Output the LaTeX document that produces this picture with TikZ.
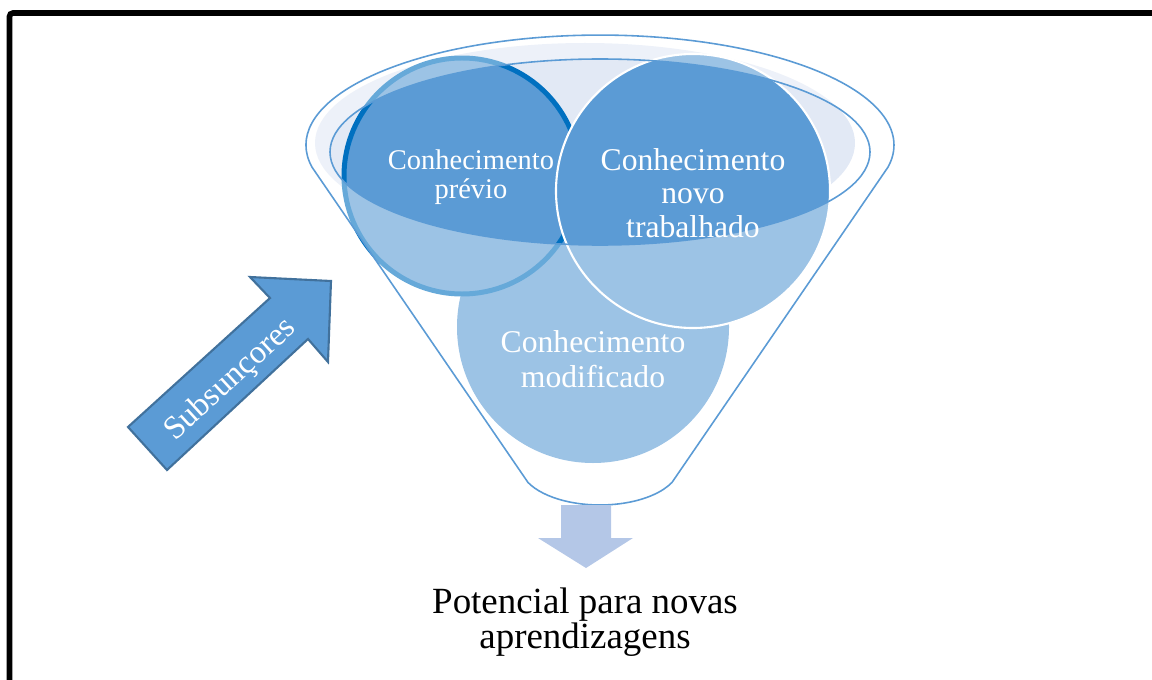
\documentclass[tikz,border=0pt]{standalone}
\usepackage{fontspec}
\setmainfont{Liberation Serif}
\definecolor{cmain}{HTML}{5B9BD5}
\definecolor{cring}{HTML}{0070C0}
\definecolor{crim}{HTML}{E2E9F5}
\definecolor{cline}{HTML}{5B9BD5}
\definecolor{cdown}{HTML}{B4C7E7}
\definecolor{cborder}{HTML}{41719C}
\begin{document}
\begin{tikzpicture}[x=0.01cm,y=-0.01cm,
  circtext/.style={text=white, align=center, inner sep=0pt},
  funnelline/.style={draw=cline, line width=0.45pt}]
\useasboundingbox (0,0) rectangle (1152,679);
% frame
\begin{scope}
  \clip (0,0) rectangle (1152,679);
  \draw[line width=1.6pt, rounded corners=1pt] (9.5,13) rectangle (1175,705);
\end{scope}
% centres
\coordinate (cprev) at (462,176);
\coordinate (cnovo) at (693,191);
\coordinate (cmod) at (593,327);
% light rim fill
\fill[crim] (585,143) ellipse[x radius=270, y radius=100];
% circles
\fill[cmain] (cmod) circle[radius=136];
\fill[cmain] (cprev) circle[radius=118];
\draw[cring, line width=1.42pt] (cprev) circle[radius=118];
\filldraw[fill=cmain, draw=white, line width=0.6pt] (cnovo) circle[radius=137];
% funnel body overlay (outside the opening)
\fill[white, opacity=0.4, even odd rule]
  (311.9,167) arc[start angle=168.5, end angle=371.5, x radius=294, y radius=110]
  -- (672,482.4) arc[start angle=25.8, end angle=154.2, x radius=80, y radius=40] -- cycle
  (600,152) ellipse[x radius=270, y radius=93];
% funnel outlines
\draw[funnelline, line join=round]
  (311.9,167) arc[start angle=168.5, end angle=371.5, x radius=294, y radius=110]
  -- (672,482.4) arc[start angle=25.8, end angle=154.2, x radius=80, y radius=40] -- cycle;
\draw[funnelline] (600,152) ellipse[x radius=270, y radius=93];
% texts in circles
\node[circtext, font=\fontsize{8.1}{8.2}\selectfont] (prev) at (471,177) {Conhecimento\\prévio};
\node[circtext, font=\fontsize{9}{9.6}\selectfont] (novo) at (693,193) {Conhecimento\\novo\\trabalhado};
\node[circtext, font=\fontsize{9}{10}\selectfont] (mod) at (593,359) {Conhecimento\\modificado};
% down arrow
\fill[cdown] (561,505) -- (611,505) -- (611,538) -- (633,538) -- (586,568) -- (538,538) -- (561,538) -- cycle;
\node[align=center, inner sep=0pt, font=\fontsize{10.5}{10.1}\selectfont] (pot) at (585,622) {Potencial para novas\\aprendizagens};
% Subsuncores arrow
\filldraw[fill=cmain, draw=cborder, line width=0.6pt, line join=miter]
  (128,427) -- (270,298) -- (250,277) -- (331,281) -- (328,362) -- (308,339) -- (167,470) -- cycle;
\node[text=white, inner sep=0pt, rotate=42.5, font=\fontsize{9.3}{10}\selectfont] (sub) at (231,380) {Subsunçores};
\end{tikzpicture}
\end{document}
